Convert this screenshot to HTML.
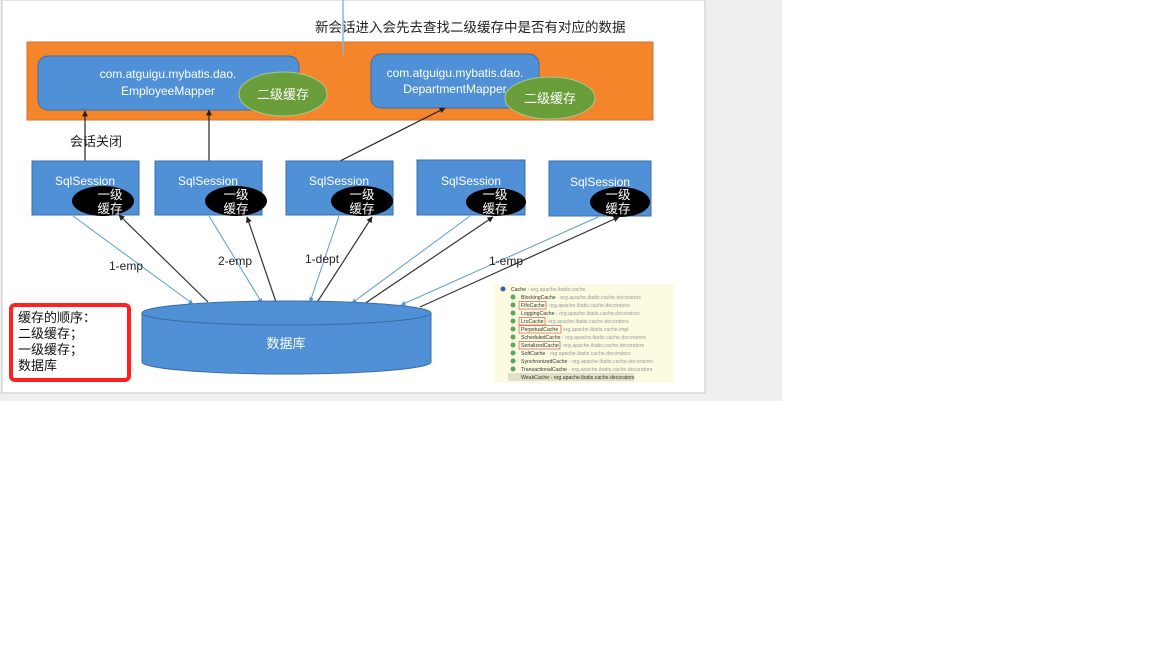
<!DOCTYPE html>
<html><head><meta charset="utf-8"><style>
html,body{margin:0;padding:0;background:#fff;width:1152px;height:648px;overflow:hidden}
svg{display:block}
text{font-family:"Liberation Sans","Noto Sans CJK SC",sans-serif}
</style></head><body>
<svg width="1152" height="648" viewBox="0 0 1152 648" xmlns="http://www.w3.org/2000/svg">
<defs>
<marker id="ab" viewBox="0 0 10 10" refX="9" refY="5" markerWidth="5" markerHeight="5" orient="auto"><path d="M0,0L10,5L0,10z" fill="#222"/></marker>
<marker id="al" viewBox="0 0 10 10" refX="9" refY="5" markerWidth="5" markerHeight="5" orient="auto"><path d="M0,0L10,5L0,10z" fill="#5b9bd5"/></marker>
</defs>
<rect x="0" y="0" width="782" height="401" fill="#efefef"/>
<rect x="2" y="0" width="703" height="393" fill="#fff" stroke="#c8c8c8"/>
<text x="315" y="32" font-size="13.5" fill="#222">新会话进入会先去查找二级缓存中是否有对应的数据</text>
<rect x="27" y="42" width="626" height="78" fill="#f5852a" stroke="#c8763a"/>
<line x1="343" y1="0" x2="343" y2="55" stroke="#8fb4e0" stroke-width="1.5"/>
<rect x="38" y="56" width="261" height="54" rx="10" fill="#4f90d6" stroke="#3a6fa8"/>
<text x="168" y="78" font-size="12" fill="#fff" text-anchor="middle">com.atguigu.mybatis.dao.</text>
<text x="168" y="95" font-size="12" fill="#fff" text-anchor="middle">EmployeeMapper</text>
<ellipse cx="283" cy="94" rx="44" ry="22" fill="#6a9e3a" stroke="#a8c890"/>
<text x="283" y="99" font-size="13" fill="#fff" text-anchor="middle">二级缓存</text>
<rect x="371" y="54" width="168" height="54" rx="10" fill="#4f90d6" stroke="#3a6fa8"/>
<text x="455" y="77" font-size="12" fill="#fff" text-anchor="middle">com.atguigu.mybatis.dao.</text>
<text x="455" y="93" font-size="12" fill="#fff" text-anchor="middle">DepartmentMapper</text>
<ellipse cx="550" cy="98" rx="45" ry="21" fill="#6a9e3a" stroke="#a8c890"/>
<text x="550" y="103" font-size="13" fill="#fff" text-anchor="middle">二级缓存</text>
<text x="70" y="146" font-size="13" fill="#222">会话关闭</text>
<g stroke="#222" stroke-width="1.2" marker-end="url(#ab)">
<line x1="85" y1="161" x2="85" y2="111"/>
<line x1="209" y1="161" x2="209" y2="110"/>
<line x1="340" y1="161" x2="445" y2="108"/>
</g>
<g fill="#4f90d6" stroke="#3a6fa8">
<rect x="32" y="161" width="107" height="54"/>
<rect x="155" y="161" width="107" height="54"/>
<rect x="286" y="161" width="107" height="54"/>
<rect x="417" y="160" width="108" height="55"/>
<rect x="549" y="161" width="102" height="55"/>
</g>
<g font-size="12" fill="#fff" text-anchor="middle">
<text x="85" y="185">SqlSession</text>
<text x="208" y="185">SqlSession</text>
<text x="339" y="185">SqlSession</text>
<text x="471" y="185">SqlSession</text>
<text x="600" y="186">SqlSession</text>
</g>
<g fill="#000">
<ellipse cx="103" cy="201" rx="31" ry="15"/>
<ellipse cx="236" cy="201" rx="31" ry="15"/>
<ellipse cx="362" cy="201" rx="31" ry="15"/>
<ellipse cx="496" cy="202" rx="30" ry="14"/>
<ellipse cx="620" cy="202" rx="30" ry="15"/>
</g>
<g font-size="12.5" fill="#fff" text-anchor="middle">
<text x="110" y="199">一级</text><text x="110" y="213">缓存</text>
<text x="236" y="199">一级</text><text x="236" y="213">缓存</text>
<text x="362" y="199">一级</text><text x="362" y="213">缓存</text>
<text x="495" y="199">一级</text><text x="495" y="213">缓存</text>
<text x="618" y="199">一级</text><text x="618" y="213">缓存</text>
</g>
<g stroke="#5b9bd5" stroke-width="1" marker-end="url(#al)">
<line x1="73" y1="216" x2="193" y2="304"/>
<line x1="209" y1="216" x2="262" y2="303"/>
<line x1="339" y1="216" x2="310" y2="302"/>
<line x1="470" y1="216" x2="352" y2="303"/>
<line x1="598" y1="217" x2="401" y2="305"/>
</g>
<g stroke="#333" stroke-width="1.2" marker-end="url(#ab)">
<line x1="208" y1="302" x2="119" y2="215"/>
<line x1="276" y1="302" x2="247" y2="217"/>
<line x1="316" y1="304" x2="372" y2="217"/>
<line x1="364" y1="304" x2="493" y2="217"/>
<line x1="420" y1="307" x2="619" y2="217"/>
</g>
<g font-size="12" fill="#222">
<text x="109" y="270">1-emp</text>
<text x="218" y="265">2-emp</text>
<text x="305" y="263">1-dept</text>
<text x="489" y="265">1-emp</text>
</g>
<path d="M142,313 L142,362 A144.5,12 0 0 0 431,362 L431,313" fill="#4f90d6" stroke="#3a6fa8"/>
<ellipse cx="286.5" cy="313" rx="144.5" ry="12" fill="#4f90d6" stroke="#3a6fa8"/>
<text x="286" y="348" font-size="13" fill="#fff" text-anchor="middle">数据库</text>
<rect x="11" y="305" width="118" height="75" rx="4" fill="#fff" stroke="#ff2020" stroke-width="4"/>
<g font-size="13" fill="#111">
<text x="18" y="322">缓存的顺序：</text>
<text x="18" y="338">二级缓存；</text>
<text x="18" y="354">一级缓存；</text>
<text x="18" y="370">数据库</text>
</g>
<rect x="494" y="284" width="180" height="99" fill="#fbfbe2"/>
<g font-size="5.2" fill="#333">
<circle cx="503" cy="289" r="2.5" fill="#3a5fb0"/><text x="511" y="291">Cache <tspan fill="#999">- org.apache.ibatis.cache</tspan></text>
<g fill="#5aa85a">
<circle cx="513" cy="297" r="2.5"/><circle cx="513" cy="305" r="2.5"/><circle cx="513" cy="313" r="2.5"/><circle cx="513" cy="321" r="2.5"/><circle cx="513" cy="329" r="2.5"/><circle cx="513" cy="337" r="2.5"/><circle cx="513" cy="345" r="2.5"/><circle cx="513" cy="353" r="2.5"/><circle cx="513" cy="361" r="2.5"/><circle cx="513" cy="369" r="2.5"/><circle cx="513" cy="377" r="2.5"/>
</g>
<rect x="508" y="373" width="126" height="8" fill="#e0e0c8"/>
<text x="521" y="299">BlockingCache <tspan fill="#999">- org.apache.ibatis.cache.decorators</tspan></text>
<text x="521" y="307">FifoCache <tspan fill="#999">- org.apache.ibatis.cache.decorators</tspan></text>
<text x="521" y="315">LoggingCache <tspan fill="#999">- org.apache.ibatis.cache.decorators</tspan></text>
<text x="521" y="323">LruCache <tspan fill="#999">- org.apache.ibatis.cache.decorators</tspan></text>
<text x="521" y="331">PerpetualCache <tspan fill="#999">- org.apache.ibatis.cache.impl</tspan></text>
<text x="521" y="339">ScheduledCache <tspan fill="#999">- org.apache.ibatis.cache.decorators</tspan></text>
<text x="521" y="347">SerializedCache <tspan fill="#999">- org.apache.ibatis.cache.decorators</tspan></text>
<text x="521" y="355">SoftCache <tspan fill="#999">- org.apache.ibatis.cache.decorators</tspan></text>
<text x="521" y="363">SynchronizedCache <tspan fill="#999">- org.apache.ibatis.cache.decorators</tspan></text>
<text x="521" y="371">TransactionalCache <tspan fill="#999">- org.apache.ibatis.cache.decorators</tspan></text>
<text x="521" y="379">WeakCache - org.apache.ibatis.cache.decorators</text>
</g>
<g fill="none" stroke="#e05a4a" stroke-width="0.7">
<rect x="519" y="301.5" width="27" height="7.5"/>
<rect x="519" y="317.5" width="26" height="7.5"/>
<rect x="519" y="325.5" width="42" height="7.5"/>
<rect x="519" y="341.5" width="41" height="7.5"/>
</g>
</svg>
</body></html>
